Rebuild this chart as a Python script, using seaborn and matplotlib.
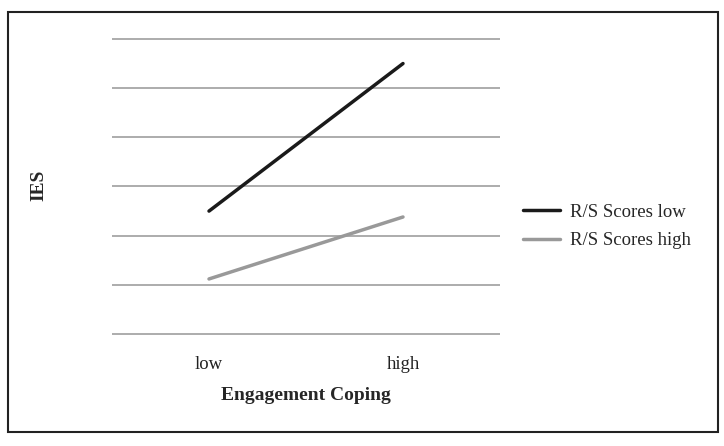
import matplotlib
matplotlib.use("Agg")
import matplotlib.pyplot as plt
import seaborn as sns
import pandas as pd
from matplotlib.patches import Rectangle

# data
coping = ["low", "high"]
rs_low = [2.5, 5.5]
rs_high = [1.12, 2.38]
series = ["R/S Scores low", "R/S Scores high"]

df = pd.DataFrame({
    "Engagement Coping": coping * 2,
    "IES": rs_low + rs_high,
    "group": [series[0]] * 2 + [series[1]] * 2,
})

sns.set_theme(style="white")
plt.rcParams["font.family"] = ["Liberation Serif", "DejaVu Serif"]

fig = plt.figure(figsize=(7.24, 4.46), dpi=100)
ax = fig.add_axes([0.1547, 0.2455, 0.5359, 0.6727])

sns.lineplot(data=df, x="Engagement Coping", y="IES", hue="group",
             palette=["#1a1a1a", "#999999"], linewidth=2.5, ax=ax,
             sort=False)

ax.set_xlim(-0.5, 1.5)
ax.set_ylim(-0.05, 6.05)
ax.set_yticks(range(0, 7))
ax.set_yticklabels([])
ax.yaxis.grid(True, color="#a6a6a6", linewidth=1.3)
ax.xaxis.grid(False)
ax.tick_params(axis="both", length=0)
ax.tick_params(axis="x", pad=14, labelsize=13.5, colors="#222222")
for s in ax.spines.values():
    s.set_visible(False)

ax.set_xlabel("Engagement Coping", fontsize=14, fontweight="bold", labelpad=10)
ax.set_ylabel("")
fig.text(39 / 724, 1 - 185 / 446, "IES", rotation=90, fontsize=14,
         fontweight="bold", ha="center", va="center")

ax.legend(title=None, frameon=False, fontsize=13.5, loc="center left",
          bbox_to_anchor=(523 / 724, 1 - 226.5 / 446), bbox_transform=fig.transFigure,
          borderpad=0, borderaxespad=0,
          handlelength=1.97, handletextpad=0.53, labelspacing=0.62)

# frame around the whole picture
fig.patches.append(Rectangle((0.011, 0.0314), 0.9807, 0.9417, fill=False,
                             edgecolor="#222222", linewidth=1.5,
                             transform=fig.transFigure, figure=fig))

fig.savefig("out.png", dpi=100)
